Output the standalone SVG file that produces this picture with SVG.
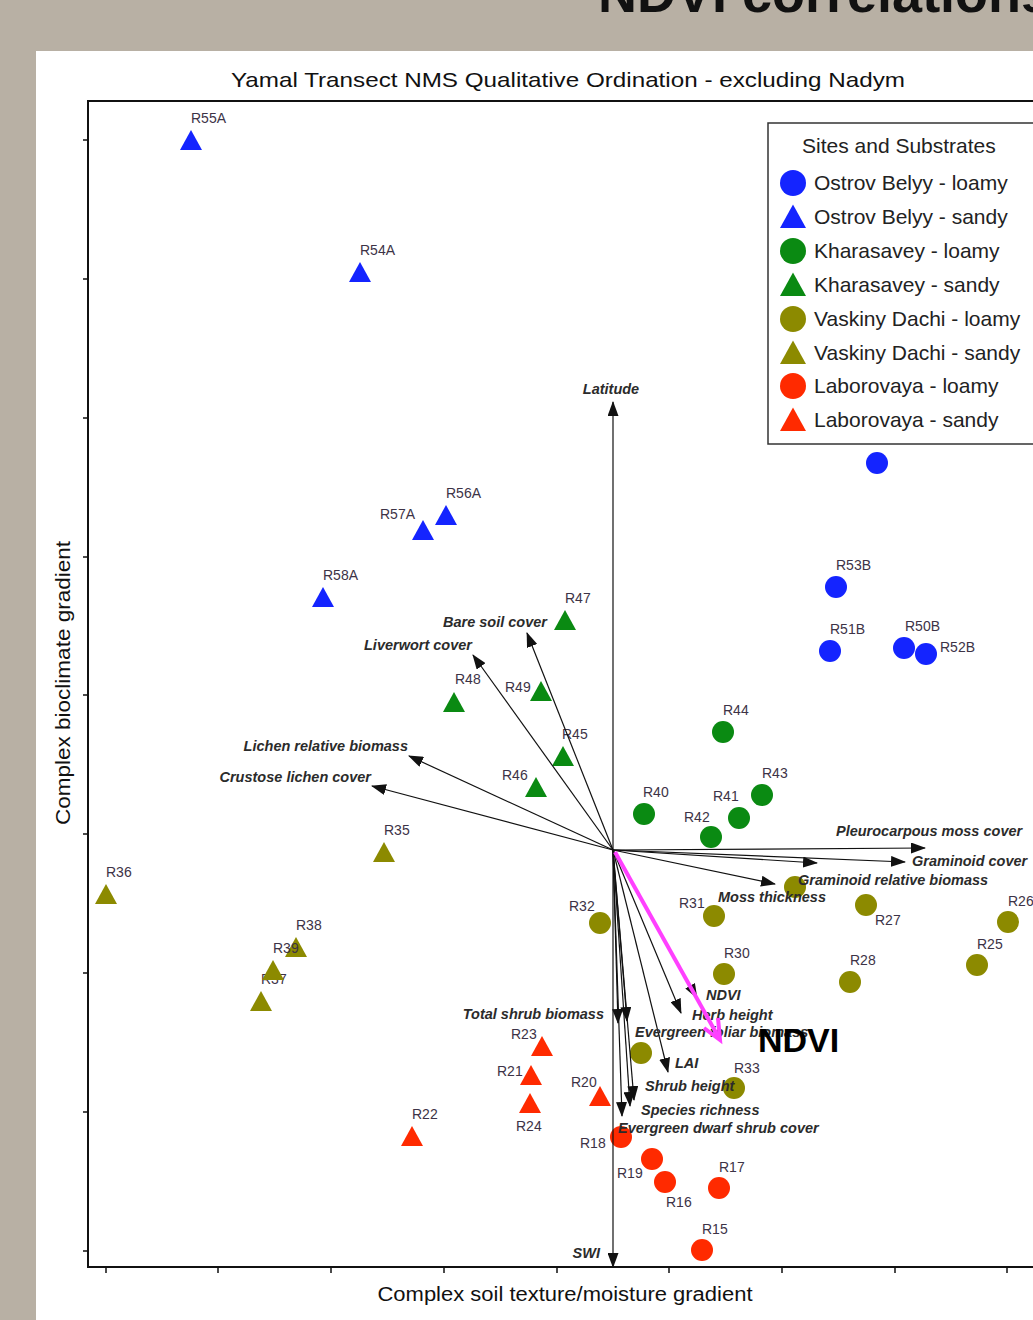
<svg xmlns="http://www.w3.org/2000/svg" xmlns:xlink="http://www.w3.org/1999/xlink" width="1033" height="1320" viewBox="0 0 1033 1320">
<style>
text{font-family:"Liberation Sans",Arial,sans-serif}
.lab{font-size:14px;fill:#3d3346}
.vl{font-size:14.5px;font-style:italic;font-weight:bold;fill:#2b2b2b}
.leg{font-size:21px;fill:#222}
.ax{font-size:20px;fill:#111}
.vec{stroke:#111;stroke-width:1.2;fill:none;marker-end:url(#ah)}
.b{fill:#1424ff}.g{fill:#0a8a12}.o{fill:#8c8a00}.r{fill:#ff2a00}
.tick{stroke:#111;stroke-width:1.5}
</style>
<defs>
<marker id="ah" markerUnits="userSpaceOnUse" markerWidth="15" markerHeight="11" refX="14" refY="5.5" orient="auto">
<path d="M0,0 L15,5.5 L0,11 Z" fill="#111"/>
</marker>
<path id="tri" d="M0,-11 L11,9 L-11,9 Z"/>
<path id="ltri" d="M0,-12.5 L13,11 L-13,11 Z"/>
</defs>
<rect x="0" y="0" width="1033" height="1320" fill="#b8b0a4"/>
<text x="598" y="12" style="font-size:54px;font-weight:bold;fill:#111">NDVI correlations</text>
<rect x="36" y="51" width="997" height="1269" fill="#fff"/>
<text x="568" y="87" text-anchor="middle" style="font-size:21px;fill:#111" textLength="674" lengthAdjust="spacingAndGlyphs">Yamal Transect NMS Qualitative Ordination - excluding Nadym</text>
<g id="axes">
<path d="M1040,101 L88,101 L88,1267 L1040,1267" fill="none" stroke="#111" stroke-width="2"/>
<path class="tick" d="M83,140H88M83,279H88M83,418H88M83,557H88M83,695H88M83,834H88M83,973H88M83,1112H88M83,1251H88M106,1267V1273M218,1267V1273M331,1267V1273M444,1267V1273M557,1267V1273M669,1267V1273M782,1267V1273M895,1267V1273M1007,1267V1273"/>
<text class="ax" x="565" y="1301" text-anchor="middle" textLength="375" lengthAdjust="spacingAndGlyphs">Complex soil texture/moisture gradient</text>
<text class="ax" transform="translate(70,683) rotate(-90)" text-anchor="middle" textLength="284" lengthAdjust="spacingAndGlyphs">Complex bioclimate gradient</text>
</g>
<g id="sites">
<g id="R55A"><use href="#tri" x="191" y="141" class="b"/><text class="lab" x="191" y="123">R55A</text></g>
<g id="R54A"><use href="#tri" x="360" y="273" class="b"/><text class="lab" x="360" y="255">R54A</text></g>
<g id="R56A"><use href="#tri" x="446" y="516" class="b"/><text class="lab" x="446" y="498">R56A</text></g>
<g id="R57A"><use href="#tri" x="423" y="531" class="b"/><text class="lab" x="380" y="519">R57A</text></g>
<g id="R58A"><use href="#tri" x="323" y="598" class="b"/><text class="lab" x="323" y="580">R58A</text></g>
<g id="R_hidden_blue"><circle cx="877" cy="463" r="11" class="b"/></g>
<g id="R53B"><circle cx="836" cy="587" r="11" class="b"/><text class="lab" x="836" y="570">R53B</text></g>
<g id="R51B"><circle cx="830" cy="651" r="11" class="b"/><text class="lab" x="830" y="634">R51B</text></g>
<g id="R50B"><circle cx="904" cy="648" r="11" class="b"/><text class="lab" x="905" y="631">R50B</text></g>
<g id="R52B"><circle cx="926" cy="654" r="11" class="b"/><text class="lab" x="940" y="652">R52B</text></g>
<g id="R47"><use href="#tri" x="565" y="621" class="g"/><text class="lab" x="565" y="603">R47</text></g>
<g id="R48"><use href="#tri" x="454" y="703" class="g"/><text class="lab" x="455" y="684">R48</text></g>
<g id="R49"><use href="#tri" x="541" y="692" class="g"/><text class="lab" x="505" y="692">R49</text></g>
<g id="R45"><use href="#tri" x="563" y="757" class="g"/><text class="lab" x="562" y="739">R45</text></g>
<g id="R46"><use href="#tri" x="536" y="788" class="g"/><text class="lab" x="502" y="780">R46</text></g>
<g id="R44"><circle cx="723" cy="732" r="11" class="g"/><text class="lab" x="723" y="715">R44</text></g>
<g id="R43"><circle cx="762" cy="795" r="11" class="g"/><text class="lab" x="762" y="778">R43</text></g>
<g id="R40"><circle cx="644" cy="814" r="11" class="g"/><text class="lab" x="643" y="797">R40</text></g>
<g id="R41"><circle cx="739" cy="818" r="11" class="g"/><text class="lab" x="713" y="801">R41</text></g>
<g id="R42"><circle cx="711" cy="837" r="11" class="g"/><text class="lab" x="684" y="822">R42</text></g>
<g id="R35"><use href="#tri" x="384" y="853" class="o"/><text class="lab" x="384" y="835">R35</text></g>
<g id="R36"><use href="#tri" x="106" y="895" class="o"/><text class="lab" x="106" y="877">R36</text></g>
<g id="R38"><use href="#tri" x="296" y="948" class="o"/><text class="lab" x="296" y="930">R38</text></g>
<g id="R37"><text class="lab" x="261" y="984">R37</text><use href="#tri" x="261" y="1002" class="o"/></g>
<g id="R39"><use href="#tri" x="273" y="971" class="o"/><text class="lab" x="273" y="953">R39</text></g>
<g id="R_unl1"><circle cx="795" cy="887" r="11" class="o"/></g>
<g id="R31"><circle cx="714" cy="916" r="11" class="o"/><text class="lab" x="679" y="908">R31</text></g>
<g id="R32"><circle cx="600" cy="923" r="11" class="o"/><text class="lab" x="569" y="911">R32</text></g>
<g id="R27"><circle cx="866" cy="905" r="11" class="o"/><text class="lab" x="875" y="925">R27</text></g>
<g id="R26"><circle cx="1008" cy="922" r="11" class="o"/><text class="lab" x="1008" y="906">R26</text></g>
<g id="R30"><circle cx="724" cy="974" r="11" class="o"/><text class="lab" x="724" y="958">R30</text></g>
<g id="R28"><circle cx="850" cy="982" r="11" class="o"/><text class="lab" x="850" y="965">R28</text></g>
<g id="R25"><circle cx="977" cy="965" r="11" class="o"/><text class="lab" x="977" y="949">R25</text></g>
<g id="R_unl2"><circle cx="641" cy="1053" r="11" class="o"/></g>
<g id="R33"><circle cx="734" cy="1088" r="11" class="o"/><text class="lab" x="734" y="1073">R33</text></g>
<g id="R23"><use href="#tri" x="542" y="1047" class="r"/><text class="lab" x="511" y="1039">R23</text></g>
<g id="R21"><use href="#tri" x="531" y="1076" class="r"/><text class="lab" x="497" y="1076">R21</text></g>
<g id="R20"><use href="#tri" x="600" y="1097" class="r"/><text class="lab" x="571" y="1087">R20</text></g>
<g id="R24"><use href="#tri" x="530" y="1104" class="r"/><text class="lab" x="516" y="1131">R24</text></g>
<g id="R22"><use href="#tri" x="412" y="1137" class="r"/><text class="lab" x="412" y="1119">R22</text></g>
<g id="R18"><circle cx="621" cy="1137" r="11" class="r"/><text class="lab" x="580" y="1148">R18</text></g>
<g id="R19"><circle cx="652" cy="1159" r="11" class="r"/><text class="lab" x="617" y="1178">R19</text></g>
<g id="R16"><circle cx="665" cy="1182" r="11" class="r"/><text class="lab" x="666" y="1207">R16</text></g>
<g id="R17"><circle cx="719" cy="1188" r="11" class="r"/><text class="lab" x="719" y="1172">R17</text></g>
<g id="R15"><circle cx="702" cy="1250" r="11" class="r"/><text class="lab" x="702" y="1234">R15</text></g>
</g>
<g id="connectors">
<line class="vec" x1="613" y1="850" x2="613" y2="402"/>
<line class="vec" x1="613" y1="850" x2="613" y2="1267"/>
<line class="vec" x1="613" y1="850" x2="527" y2="633"/>
<line class="vec" x1="613" y1="850" x2="473" y2="655"/>
<line class="vec" x1="613" y1="850" x2="409" y2="756"/>
<line class="vec" x1="613" y1="850" x2="372" y2="786"/>
<line class="vec" x1="613" y1="850" x2="925" y2="848"/>
<line class="vec" x1="613" y1="850" x2="905" y2="862"/>
<line class="vec" x1="613" y1="850" x2="817" y2="863"/>
<line class="vec" x1="613" y1="850" x2="775" y2="884"/>
<line class="vec" x1="613" y1="850" x2="697" y2="998"/>
<line class="vec" x1="613" y1="850" x2="681" y2="1013"/>
<line class="vec" x1="613" y1="850" x2="668" y2="1072"/>
<line class="vec" x1="613" y1="850" x2="618" y2="1023"/>
<line class="vec" x1="613" y1="850" x2="627" y2="1021"/>
<line class="vec" x1="613" y1="850" x2="634" y2="1100"/>
<line class="vec" x1="613" y1="850" x2="630" y2="1106"/>
<line class="vec" x1="613" y1="850" x2="622" y2="1116"/>
</g>
<g id="vector-labels">
<text class="vl" x="611" y="394" text-anchor="middle">Latitude</text>
<text class="vl" x="600" y="1258" text-anchor="end">SWI</text>
<text class="vl" x="547" y="627" text-anchor="end">Bare soil cover</text>
<text class="vl" x="472" y="650" text-anchor="end">Liverwort cover</text>
<text class="vl" x="408" y="751" text-anchor="end">Lichen relative biomass</text>
<text class="vl" x="371" y="782" text-anchor="end">Crustose lichen cover</text>
<text class="vl" x="836" y="836">Pleurocarpous moss cover</text>
<text class="vl" x="912" y="866">Graminoid cover</text>
<text class="vl" x="798" y="885">Graminoid relative biomass</text>
<text class="vl" x="718" y="902">Moss thickness</text>
<text class="vl" x="706" y="1000">NDVI</text>
<text class="vl" x="692" y="1020">Herb height</text>
<text class="vl" x="604" y="1019" text-anchor="end">Total shrub biomass</text>
<text class="vl" x="635" y="1037">Evergreen foliar biomass</text>
<text class="vl" x="675" y="1068">LAI</text>
<text class="vl" x="645" y="1091">Shrub height</text>
<text class="vl" x="641" y="1115">Species richness</text>
<text class="vl" x="618" y="1133">Evergreen dwarf shrub cover</text>
</g>
<g id="ndvi-highlight">
<line x1="615" y1="852" x2="719" y2="1038" stroke="#ff40ff" stroke-width="4"/>
<polyline points="718,1018 720,1040 704,1028" fill="none" stroke="#ff40ff" stroke-width="4" stroke-linejoin="miter"/>
<text x="758" y="1052" style="font-size:34px;font-weight:bold;fill:#000">NDVI</text>
</g>
<g id="legend">
<rect x="768" y="123" width="300" height="321" fill="#fff" stroke="#333" stroke-width="1.5"/>
<text class="leg" x="802" y="153">Sites and Substrates</text>
<circle cx="793" cy="183" r="13" class="b"/><text class="leg" x="814" y="190">Ostrov Belyy - loamy</text>
<use href="#ltri" x="793" y="217" class="b"/><text class="leg" x="814" y="224">Ostrov Belyy - sandy</text>
<circle cx="793" cy="251" r="13" class="g"/><text class="leg" x="814" y="258">Kharasavey - loamy</text>
<use href="#ltri" x="793" y="285" class="g"/><text class="leg" x="814" y="292">Kharasavey - sandy</text>
<circle cx="793" cy="319" r="13" class="o"/><text class="leg" x="814" y="326">Vaskiny Dachi - loamy</text>
<use href="#ltri" x="793" y="353" class="o"/><text class="leg" x="814" y="360">Vaskiny Dachi - sandy</text>
<circle cx="793" cy="386" r="13" class="r"/><text class="leg" x="814" y="393">Laborovaya - loamy</text>
<use href="#ltri" x="793" y="420" class="r"/><text class="leg" x="814" y="427">Laborovaya - sandy</text>
</g>
</svg>
